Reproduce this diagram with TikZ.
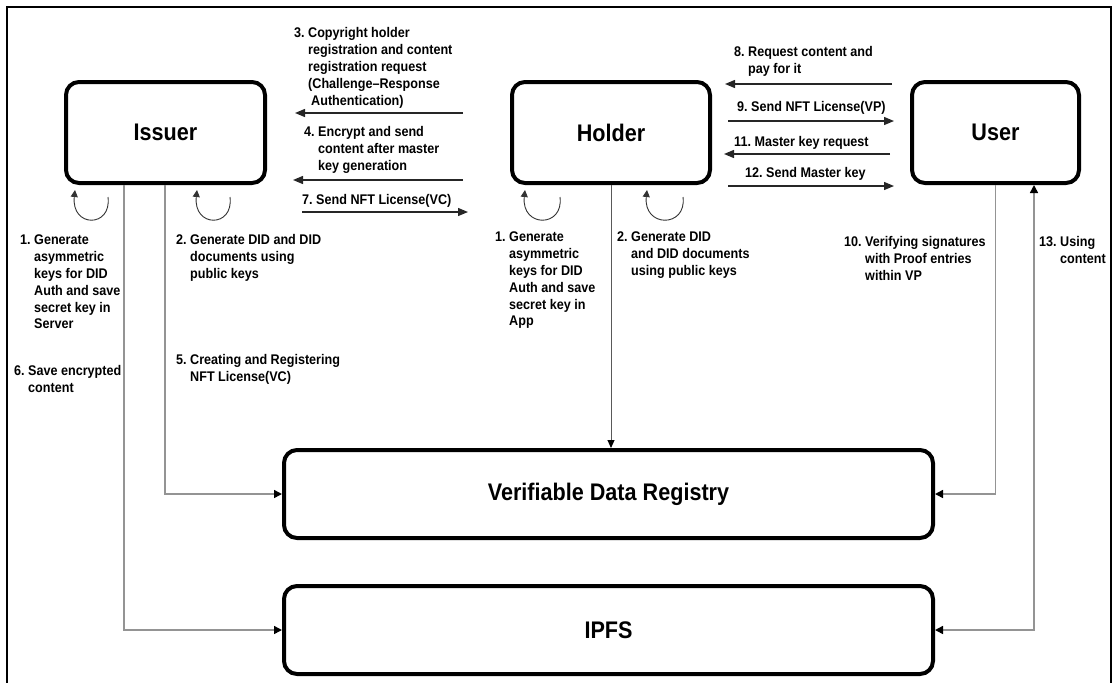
\documentclass[tikz,border=0pt]{standalone}
\usepackage{fontspec}
\setmainfont{Liberation Sans}
\newfontfamily\labfont[FakeStretch=0.9]{Liberation Sans}
\newfontfamily\boxfont[FakeStretch=0.9]{Liberation Sans}
\usetikzlibrary{arrows.meta}

% hanging-indent step label: number, then lines separated by \\ &
\newcommand{\hanglab}[2]{\begin{tabular}{@{}l@{}l@{}}\mbox{#1\ }&#2\end{tabular}}

\begin{document}
\begin{tikzpicture}[x=1pt,y=-1pt,
  box/.style={draw=black, line width=4pt, rounded corners=13pt, fill=white,
    inner sep=0pt, font=\boxfont\bfseries\fontsize{24}{29}\selectfont},
  lab/.style={inner sep=0pt, anchor=north west,
    font=\labfont\bfseries\fontsize{14}{16.8}\selectfont},
  msg/.style={draw=black!85, line width=1.3pt, -{Triangle[length=10pt,width=8pt]}},
  conn/.style={draw=black!42, line width=1.5pt,
    -{Triangle[length=8pt,width=8pt,color=black]}},
  bothconn/.style={draw=black!42, line width=1.5pt,
    {Triangle[length=8pt,width=8pt,color=black]}-{Triangle[length=8pt,width=8pt,color=black]}},
  hconn/.style={draw=black!65, line width=1pt,
    -{Triangle[length=8pt,width=7pt,color=black]}},
  selfloop/.style={draw=black!80, line width=0.9pt, -{Triangle[length=7pt,width=7pt]}},
]
\useasboundingbox (0,0) rectangle (1117,683);

% frame
\draw[line width=1.3pt] (7,690) -- (7,7) -- (1111,7) -- (1111,690);

% parties and services
\node[box, minimum width=199pt, minimum height=101pt] (issuer) at (165.5,132.5) {Issuer};
\node[box, minimum width=198pt, minimum height=101pt] (holder) at (611,132.5) {Holder};
\node[box, minimum width=167pt, minimum height=101pt] (user) at (995.5,132.5) {User};
\node[box, minimum width=649pt, minimum height=88pt] (vdr) at (608.5,494) {Verifiable Data Registry};
\node[box, minimum width=649pt, minimum height=88pt] (ipfs) at (608.5,630) {IPFS};

% message arrows between the parties
\coordinate (m3a) at (463,113); \coordinate (m3b) at (295,113);
\coordinate (m4a) at (463,180); \coordinate (m4b) at (293,180);
\coordinate (m7a) at (302,212); \coordinate (m7b) at (468,212);
\coordinate (m8a) at (892,84);  \coordinate (m8b) at (725,84);
\coordinate (m9a) at (728,121); \coordinate (m9b) at (894,121);
\coordinate (m11a) at (890,154); \coordinate (m11b) at (724,154);
\coordinate (m12a) at (728,186); \coordinate (m12b) at (894,186);
\foreach \s/\e in {m3a/m3b, m4a/m4b, m7a/m7b, m8a/m8b, m9a/m9b, m11a/m11b, m12a/m12b}
  \draw[msg] (\s) -- (\e);

% connectors to the registry and storage
\coordinate (ix1) at (124,0);
\coordinate (ix2) at (165,0);
\coordinate (ux2) at (1034,0);
\draw[conn] (ix1 |- issuer.south) |- (ipfs.west);
\draw[conn] (ix2 |- issuer.south) |- (vdr.west);
\draw[hconn] (holder.south) -- (holder.south |- vdr.north);
\draw[conn] (user.south) |- (vdr.east);
\draw[bothconn] (ipfs.east) -| (ux2 |- user.south);

% self loops under Issuer and Holder
\foreach \l/\r in {75/108, 197/230, 525/560, 647/683}{
  \coordinate (ls) at (\r,197);
  \coordinate (le) at (\l,190);
  \draw[selfloop] (ls) .. controls (\r+4,228) and (\l-4,228) .. (le);
}

% step labels
\node[lab] (t1) at (20,233) {\hanglab{1.}{Generate\\&asymmetric\\&keys for DID\\&Auth and save\\&secret key in\\&Server}};
\node[lab] (t2) at (176,233) {\hanglab{2.}{Generate DID and DID\\&documents using\\&public keys}};
\node[lab] (t3) at (294,26) {\hanglab{3.}{Copyright holder\\&registration and content\\&registration request\\&(Challenge–Response\\&\hspace{3pt}Authentication)}};
\node[lab] (t4) at (304,125) {\hanglab{4.}{Encrypt and send\\&content after master\\&key generation}};
\node[lab] (t7) at (302,193) {\hanglab{7.}{Send NFT License(VC)}};
\node[lab] (t5) at (176,353) {\hanglab{5.}{Creating and Registering\\&NFT License(VC)}};
\node[lab] (t6) at (14,364) {\hanglab{6.}{Save encrypted\\&content}};
\node[lab] (h1) at (495,230) {\hanglab{1.}{Generate\\&asymmetric\\&keys for DID\\&Auth and save\\&secret key in\\&App}};
\node[lab] (h2) at (617,230) {\hanglab{2.}{Generate DID\\&and DID documents\\&using public keys}};
\node[lab] (t8) at (734,45) {\hanglab{8.}{Request content and\\&pay for it}};
\node[lab] (t9) at (737,100) {\hanglab{9.}{Send NFT License(VP)}};
\node[lab] (t11) at (734,135) {\hanglab{11.}{Master key request}};
\node[lab] (t12) at (745,166) {\hanglab{12.}{Send Master key}};
\node[lab] (t10) at (844,235) {\hanglab{10.}{Verifying signatures\\&with Proof entries\\&within VP}};
\node[lab] (t13) at (1039,235) {\hanglab{13.}{Using\\&content}};
\end{tikzpicture}
\end{document}
